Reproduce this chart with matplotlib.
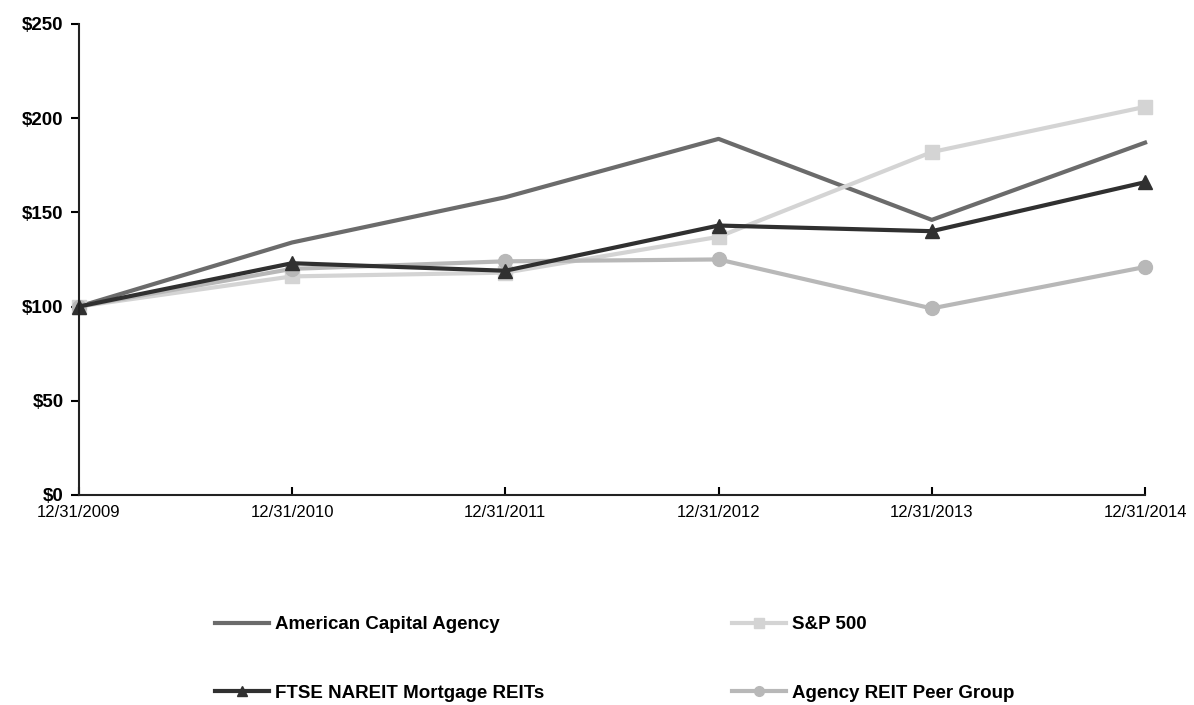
import matplotlib.pyplot as plt

plt.rcParams['font.family'] = ['Liberation Sans', 'DejaVu Sans']

dates = ['12/31/2009', '12/31/2010', '12/31/2011', '12/31/2012', '12/31/2013', '12/31/2014']
aca = [100, 134, 158, 189, 146, 187]
sp500 = [100, 116, 118, 137, 182, 206]
ftse = [100, 123, 119, 143, 140, 166]
peer = [100, 120, 124, 125, 99, 121]

x = list(range(len(dates)))

fig = plt.figure(figsize=(11.94, 7.05), dpi=100)
ax = fig.add_axes([0.066, 0.298, 0.893, 0.668])

l_aca, = ax.plot(x, aca, color='#6b6b6b', lw=3, label='American Capital Agency',
                 clip_on=False)
l_sp, = ax.plot(x, sp500, color='#d4d4d4', lw=3, marker='s', markersize=10,
                label='S&P 500', clip_on=False)
l_peer, = ax.plot(x, peer, color='#b8b8b8', lw=3, marker='o', markersize=10,
                  label='Agency REIT Peer Group', clip_on=False)
l_ftse, = ax.plot(x, ftse, color='#303030', lw=3, marker='^', markersize=10,
                  label='FTSE NAREIT Mortgage REITs', clip_on=False)

ax.set_xlim(0, len(dates) - 1)
ax.set_ylim(0, 250)
ax.set_xticks(x)
ax.set_xticklabels(dates, fontsize=12)
ax.set_yticks(range(0, 251, 50))
ax.set_yticklabels([f'${v}' for v in range(0, 251, 50)], fontsize=13.5, fontweight='bold')
ax.tick_params(axis='x', direction='in', length=6, width=1.5, pad=7)
ax.tick_params(axis='y', direction='out', length=6, width=1.5, pad=5)
for side in ['top', 'right']:
    ax.spines[side].set_visible(False)
for side in ['left', 'bottom']:
    ax.spines[side].set_linewidth(1.5)
    ax.spines[side].set_color('#222222')

fig.legend(handles=[l_aca, l_ftse, l_sp, l_peer], ncol=2, loc='upper left',
           bbox_to_anchor=(0.166, 0.15), bbox_transform=fig.transFigure,
           frameon=False, handlelength=2.9, handletextpad=0.3, labelspacing=2.75,
           columnspacing=10, markerscale=0.7,
           prop={'size': 13.5, 'weight': 'bold'})

fig.savefig('out.png', dpi=100)
